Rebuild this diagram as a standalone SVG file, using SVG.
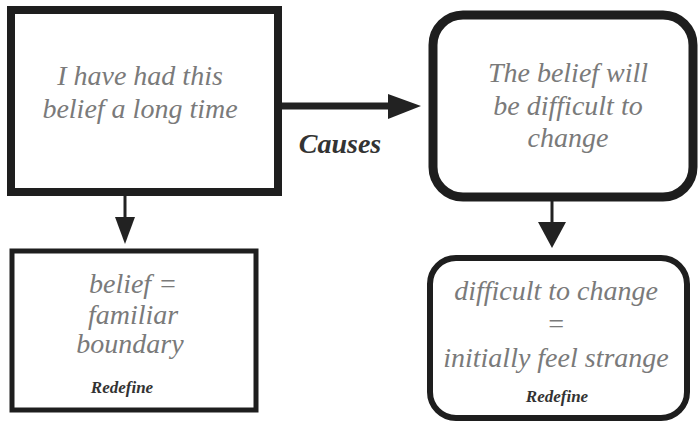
<svg xmlns="http://www.w3.org/2000/svg" width="699" height="423" viewBox="0 0 699 423">
<rect width="699" height="423" fill="#fff"/>
<g id="connectors" fill="#222" stroke="none">
<line x1="281" y1="106" x2="392" y2="106" stroke="#222" stroke-width="7"/>
<polygon points="388,94 421,106 388,119"/>
<text x="340" y="153" font-family="'Times New Roman', 'Liberation Serif', serif" font-style="italic" font-weight="bold" font-size="28" fill="#333" text-anchor="middle">Causes</text>
<line x1="125" y1="196" x2="125" y2="222" stroke="#222" stroke-width="3"/>
<polygon points="115,217 135,217 125,244"/>
<line x1="552" y1="201" x2="552" y2="226" stroke="#222" stroke-width="3"/>
<polygon points="538,222 566,222 552,248"/>
</g>
<g id="node1">
<rect x="11" y="10" width="267" height="182" fill="#fff" stroke="#1e1e1e" stroke-width="8"/>
<text x="140" y="85" font-family="'Times New Roman', 'Liberation Serif', serif" font-style="italic" font-size="28" fill="#7a7a7a" text-anchor="middle">I have had this</text>
<text x="140" y="118" font-family="'Times New Roman', 'Liberation Serif', serif" font-style="italic" font-size="28" fill="#7a7a7a" text-anchor="middle">belief a long time</text>
</g>
<g id="node2">
<rect x="433" y="15" width="260" height="182" rx="30" fill="#fff" stroke="#1e1e1e" stroke-width="9"/>
<text x="568" y="82" font-family="'Times New Roman', 'Liberation Serif', serif" font-style="italic" font-size="28" fill="#7a7a7a" text-anchor="middle">The belief will</text>
<text x="568" y="115" font-family="'Times New Roman', 'Liberation Serif', serif" font-style="italic" font-size="28" fill="#7a7a7a" text-anchor="middle">be difficult to</text>
<text x="568" y="147" font-family="'Times New Roman', 'Liberation Serif', serif" font-style="italic" font-size="28" fill="#7a7a7a" text-anchor="middle">change</text>
</g>
<g id="node3">
<rect x="12" y="251" width="244" height="159" fill="#fff" stroke="#1e1e1e" stroke-width="5"/>
<text x="133" y="293" font-family="'Times New Roman', 'Liberation Serif', serif" font-style="italic" font-size="28" fill="#7a7a7a" text-anchor="middle">belief =</text>
<text x="133" y="324" font-family="'Times New Roman', 'Liberation Serif', serif" font-style="italic" font-size="28" fill="#7a7a7a" text-anchor="middle">familiar</text>
<text x="130" y="353" font-family="'Times New Roman', 'Liberation Serif', serif" font-style="italic" font-size="28" fill="#7a7a7a" text-anchor="middle">boundary</text>
<text x="122" y="393" font-family="'Times New Roman', 'Liberation Serif', serif" font-style="italic" font-weight="bold" font-size="17" fill="#333" text-anchor="middle">Redefine</text>
</g>
<g id="node4">
<rect x="430" y="258" width="257" height="160" rx="26" fill="#fff" stroke="#1e1e1e" stroke-width="6"/>
<text x="556" y="300" font-family="'Times New Roman', 'Liberation Serif', serif" font-style="italic" font-size="28" fill="#7a7a7a" text-anchor="middle">difficult to change</text>
<text x="556" y="333" font-family="'Times New Roman', 'Liberation Serif', serif" font-style="italic" font-size="28" fill="#7a7a7a" text-anchor="middle">=</text>
<text x="556" y="367" font-family="'Times New Roman', 'Liberation Serif', serif" font-style="italic" font-size="28" fill="#7a7a7a" text-anchor="middle">initially feel strange</text>
<text x="557" y="402" font-family="'Times New Roman', 'Liberation Serif', serif" font-style="italic" font-weight="bold" font-size="17" fill="#333" text-anchor="middle">Redefine</text>
</g>
</svg>
